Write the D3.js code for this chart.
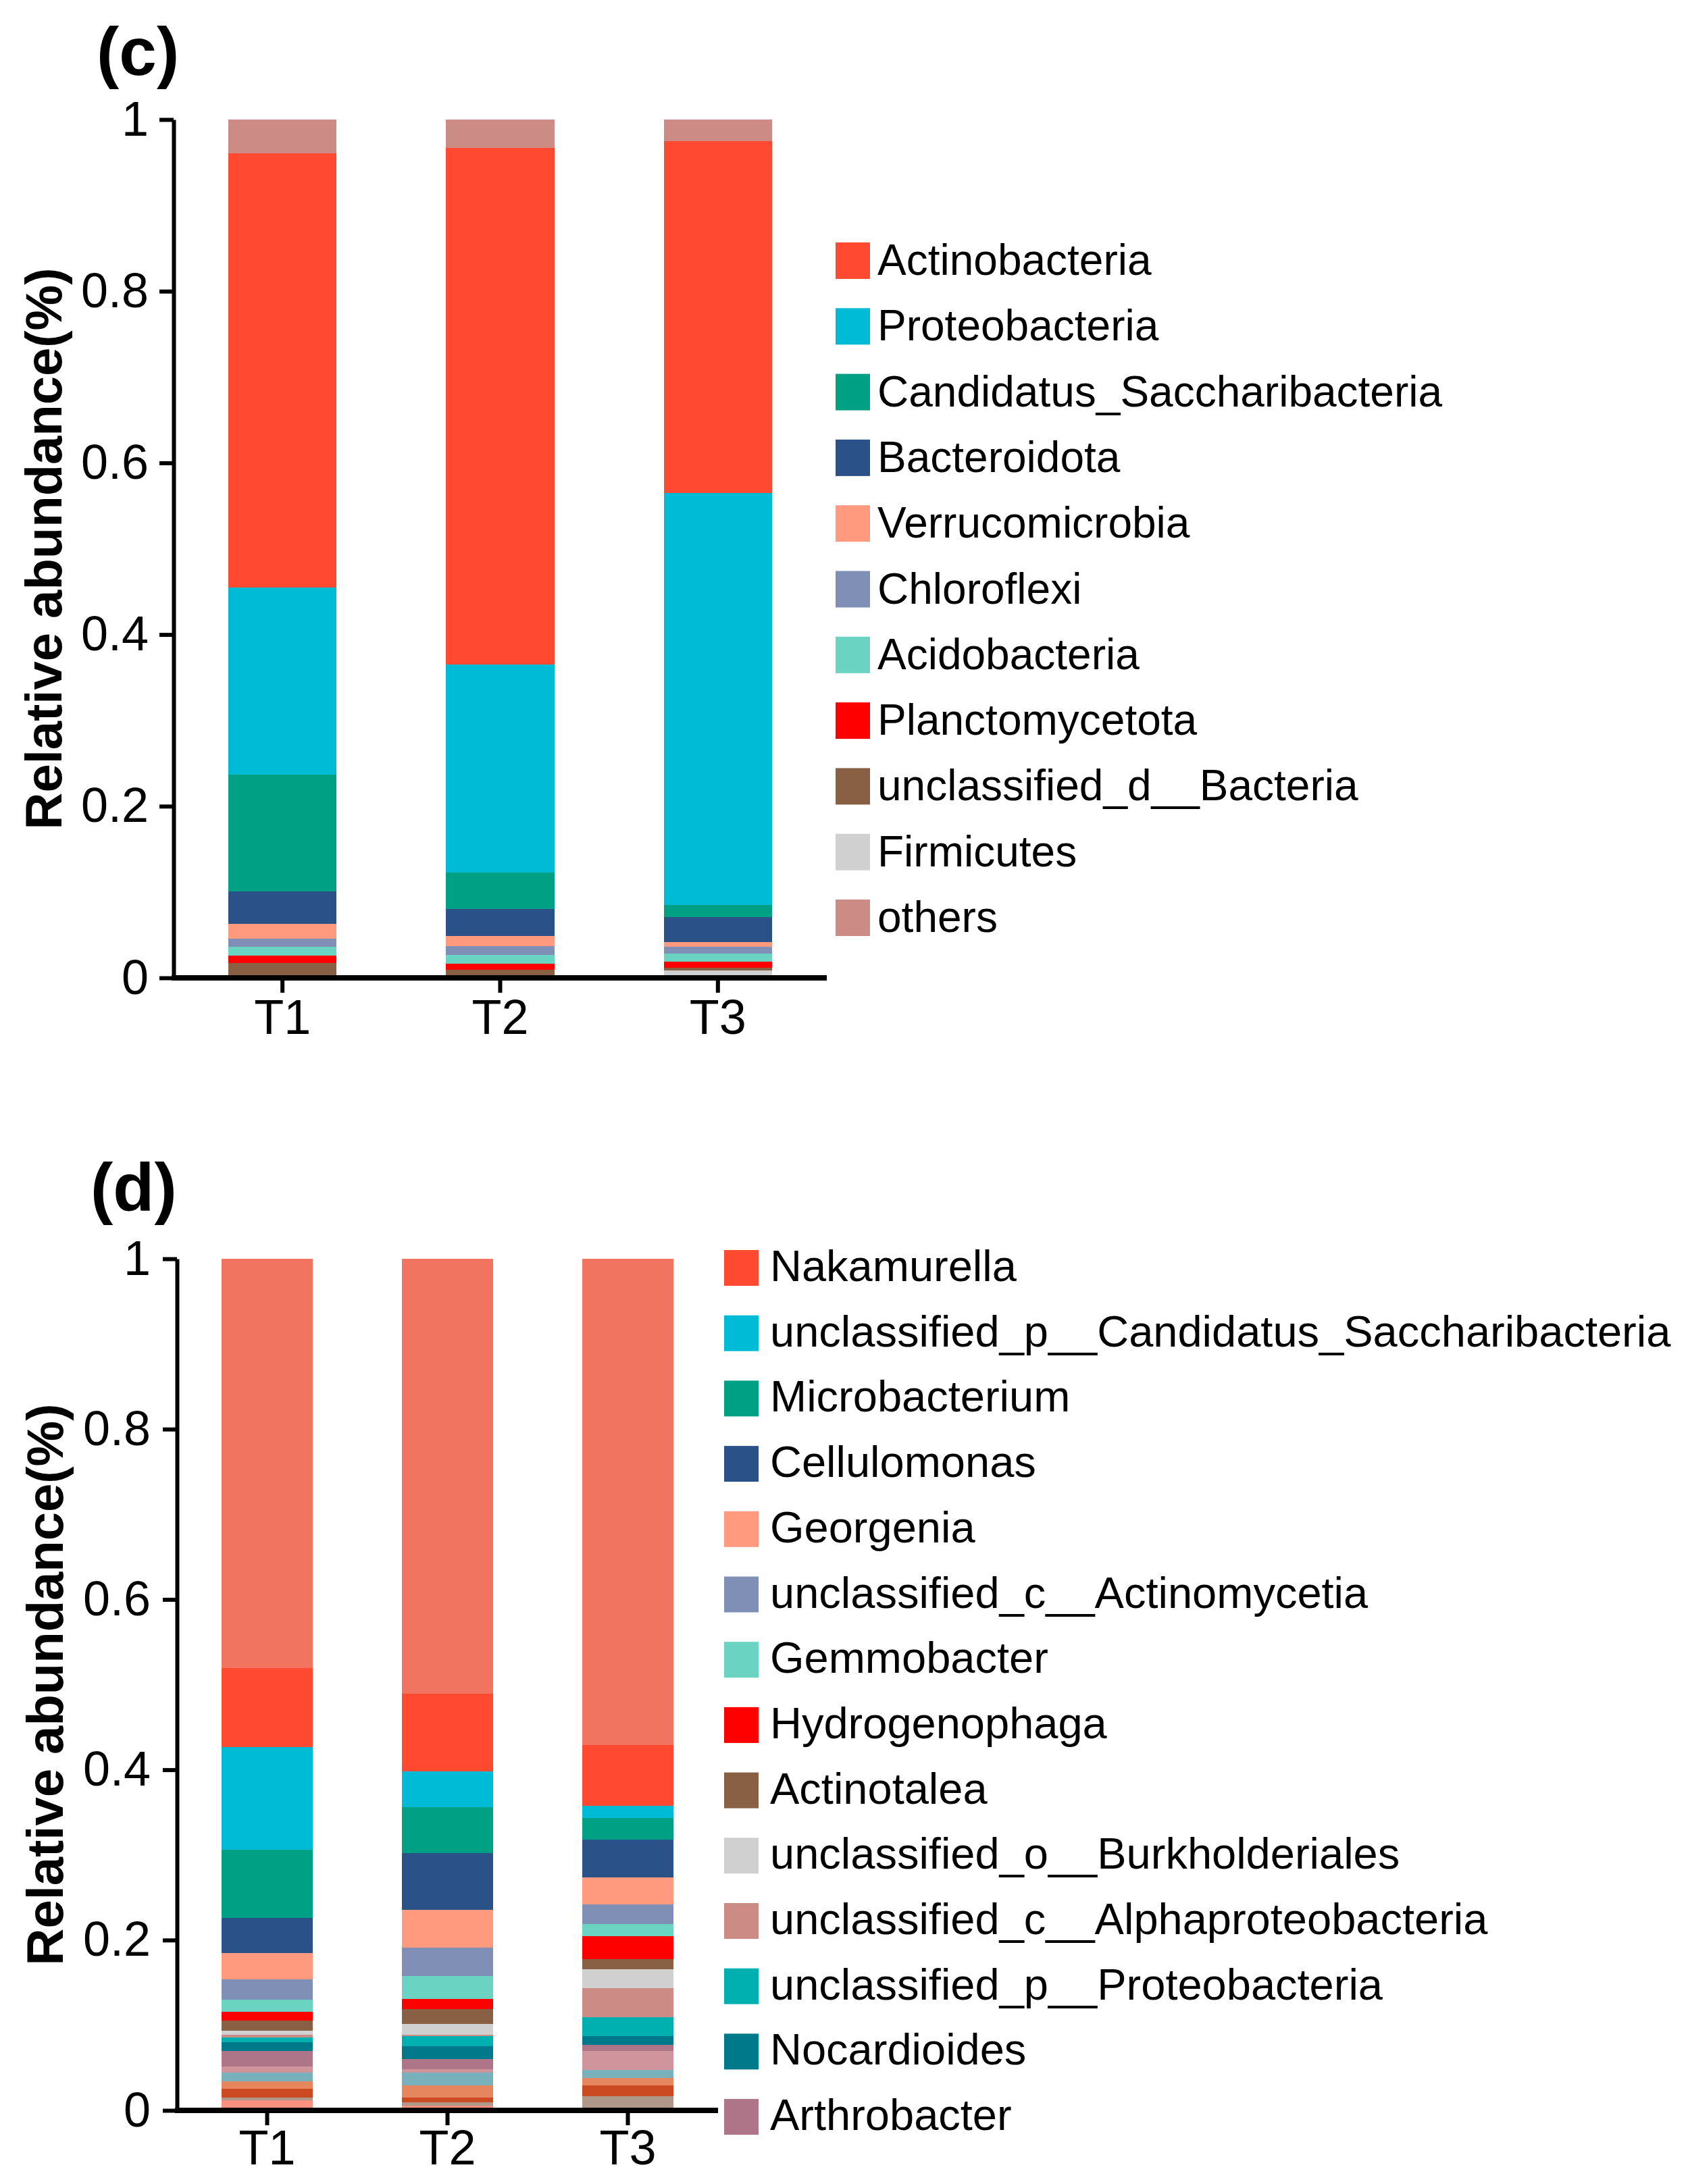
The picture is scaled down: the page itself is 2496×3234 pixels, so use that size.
<!DOCTYPE html>
<html>
<head>
<meta charset="utf-8">
<script src="https://cdn.jsdelivr.net/npm/d3@7"></script>
<style>
html,body{margin:0;padding:0;background:#fff;}
svg{display:block;}
</style>
</head>
<body>
<script>
// ---------------- DATA ----------------
const samples = ["T1", "T2", "T3"];
const yTickValues = [0, 0.2, 0.4, 0.6, 0.8, 1];
const yTickLabels = ["0", "0.2", "0.4", "0.6", "0.8", "1"];
const yAxisTitle = "Relative abundance(%)";

// Panel (c): phylum level, listed in legend order ("others" drawn on top)
const phylumNames = ["Actinobacteria", "Proteobacteria", "Candidatus_Saccharibacteria", "Bacteroidota",
  "Verrucomicrobia", "Chloroflexi", "Acidobacteria", "Planctomycetota", "unclassified_d__Bacteria",
  "Firmicutes", "others"];
const phylumColors = ["#FF4A31", "#00BBD6", "#00A085", "#2A5288", "#FF9A7F", "#7F8FB5", "#6AD3C2",
  "#FF0000", "#8A6045", "#D0D0D0", "#CC8B84"];
const phylumT1 = [0.506, 0.218, 0.136, 0.038, 0.017, 0.010, 0.010, 0.009, 0.014, 0.003, 0.039];
const phylumT2 = [0.602, 0.242, 0.043, 0.031, 0.012, 0.0105, 0.010, 0.007, 0.0066, 0.003, 0.0329];
const phylumT3 = [0.410, 0.480, 0.014, 0.029, 0.006, 0.0074, 0.0097, 0.007, 0.0034, 0.0084, 0.025];

// Panel (d): genus level, legend order; the last six genera before "others" are not in the visible legend
const genusNames = ["Nakamurella", "unclassified_p__Candidatus_Saccharibacteria", "Microbacterium",
  "Cellulomonas", "Georgenia", "unclassified_c__Actinomycetia", "Gemmobacter", "Hydrogenophaga",
  "Actinotalea", "unclassified_o__Burkholderiales", "unclassified_c__Alphaproteobacteria",
  "unclassified_p__Proteobacteria", "Nocardioides", "Arthrobacter",
  "genus_15", "genus_16", "genus_17", "genus_18", "genus_19", "genus_20", "others"];
const genusLegendCount = 14;
const genusColors = ["#FF4A31", "#00BBD6", "#00A085", "#2A5288", "#FF9A7F", "#7F8FB5", "#6AD3C2",
  "#FF0000", "#8A6045", "#D0D0D0", "#CC8B84", "#00AFB0", "#007A8A", "#AD7587",
  "#D0959C", "#78B0BC", "#E5865F", "#CC4A22", "#AF978A", "#FA9080", "#F07460"];
const genusT1 = [0.093, 0.1206, 0.080, 0.0416, 0.0308, 0.0236, 0.0141, 0.0101, 0.0119, 0.0050, 0.0034,
  0.0053, 0.0101, 0.0186, 0.0072, 0.0101, 0.0085, 0.0106, 0.0034, 0.0117, 0.4804];
const genusT2 = [0.0912, 0.0423, 0.0538, 0.0664, 0.0445, 0.0339, 0.0263, 0.0119, 0.0180, 0.0125, 0.0016,
  0.0119, 0.0151, 0.0119, 0.0037, 0.0154, 0.0141, 0.0053, 0.0045, 0.0053, 0.5104];
const genusT3 = [0.0712, 0.0141, 0.0257, 0.0448, 0.0315, 0.0232, 0.0137, 0.0271, 0.0119, 0.0220, 0.0345,
  0.0220, 0.0103, 0.0069, 0.0223, 0.0101, 0.0085, 0.0122, 0.0151, 0.0019, 0.571];

// ---------------- DRAWING ----------------
const W = 2496, H = 3234;
const FONT = "'Liberation Sans', Arial, Helvetica, sans-serif";

const svg = d3.select("body").append("svg")
  .attr("width", W).attr("height", H)
  .attr("viewBox", `0 0 ${W} ${H}`);
svg.append("rect").attr("width", W).attr("height", H).attr("fill", "#fff");

function drawPanel(cfg) {
  const g = svg.append("g");
  const names = cfg.names;
  const rows = samples.map((s, i) => {
    const o = { sample: s };
    names.forEach((n, j) => { o[n] = cfg.values[i][j]; });
    return o;
  });
  // stack bottom-to-top: reverse legend order, "others" last (top)
  const last = names.length - 1;
  const keys = names.slice(0, last).reverse().concat([names[last]]);
  const colorOf = new Map(names.map((n, j) => [n, cfg.colors[j]]));
  const series = d3.stack().keys(keys)(rows);

  const x = d3.scaleBand().domain(samples).range(cfg.xRange)
    .paddingInner(cfg.padInner).paddingOuter(cfg.padInner / 2);
  const y = d3.scaleLinear().domain([0, 1]).range(cfg.yRange);

  // bars
  g.append("g").selectAll("g").data(series).join("g")
    .attr("fill", d => colorOf.get(d.key))
    .selectAll("rect").data(d => d).join("rect")
    .attr("x", d => x(d.data.sample))
    .attr("width", x.bandwidth())
    .attr("y", d => y(d[1]))
    .attr("height", d => Math.max(0, y(d[0]) - y(d[1])))
    .attr("shape-rendering", "crispEdges");

  // y axis
  const yAxis = g.append("g").attr("transform", `translate(${cfg.xRange[0]},0)`)
    .call(d3.axisLeft(y).tickValues(yTickValues)
      .tickFormat((d, i) => yTickLabels[i]).tickSize(21).tickSizeOuter(0).tickPadding(cfg.yLabelPad));
  yAxis.select(".domain").attr("stroke", "#000").attr("stroke-width", 6);
  yAxis.selectAll(".tick line").attr("stroke", "#000").attr("stroke-width", 6);
  yAxis.selectAll(".tick text").attr("font-family", FONT).attr("font-size", 72).attr("fill", "#000");

  // x axis
  const xAxis = g.append("g").attr("transform", `translate(0,${cfg.yRange[0]})`)
    .call(d3.axisBottom(x).tickSize(22).tickSizeOuter(0));
  xAxis.select(".domain").attr("stroke", "#000").attr("stroke-width", 8)
    .attr("d", `M${cfg.xRange[0] - 3},0H${cfg.xRange[1]}`);
  xAxis.selectAll(".tick line").attr("stroke", "#000").attr("stroke-width", 6);
  xAxis.selectAll(".tick text").attr("font-family", FONT).attr("font-size", 72).attr("fill", "#000")
    .attr("dy", null).attr("y", cfg.xLabelBaseline - cfg.yRange[0]);

  // y axis title
  g.append("text")
    .attr("transform", `translate(${cfg.titleX},${(cfg.yRange[0] + cfg.yRange[1]) / 2}) rotate(-90)`)
    .attr("text-anchor", "middle")
    .attr("font-family", FONT).attr("font-weight", "bold").attr("font-size", 76)
    .text(yAxisTitle);

  // panel label
  g.append("text").attr("x", cfg.labelX).attr("y", cfg.labelY)
    .attr("font-family", FONT).attr("font-weight", "bold").attr("font-size", 100)
    .text(cfg.label);

  // legend
  const legendItems = names.map((n, j) => ({ name: n, color: cfg.colors[j] }))
    .filter((d, j) => cfg.legendFilter(d, j));
  const lg = g.append("g").selectAll("g").data(legendItems).join("g")
    .attr("transform", (d, i) => `translate(${cfg.legX},${cfg.legTop + i * cfg.legStep})`);
  lg.append("rect").attr("width", cfg.swW).attr("height", cfg.swH).attr("fill", d => d.color);
  lg.append("text").attr("x", cfg.legTextX - cfg.legX).attr("y", cfg.legTextDy)
    .attr("font-family", FONT).attr("font-size", cfg.legFont).attr("fill", "#000")
    .text(d => d.name);
}

drawPanel({
  names: phylumNames, colors: phylumColors, values: [phylumT1, phylumT2, phylumT3],
  xRange: [257, 1224], yRange: [1448, 177], padInner: 0.503,
  yLabelPad: 16, xLabelBaseline: 1531, titleX: 91,
  label: "(c)", labelX: 143, labelY: 111,
  legendFilter: () => true,
  legX: 1237, legTop: 359, legStep: 97.3, swW: 51, swH: 54, legTextX: 1299, legTextDy: 48, legFont: 64
});

drawPanel({
  names: genusNames, colors: genusColors, values: [genusT1, genusT2, genusT3],
  xRange: [262, 1063], yRange: [3125, 1864], padInner: 0.495,
  yLabelPad: 18, xLabelBaseline: 3205, titleX: 93,
  label: "(d)", labelX: 134, labelY: 1793,
  legendFilter: (d, j) => j < genusLegendCount,
  legX: 1072, legTop: 1851, legStep: 96.7, swW: 51, swH: 53, legTextX: 1140, legTextDy: 46, legFont: 65
});
</script>
</body>
</html>
